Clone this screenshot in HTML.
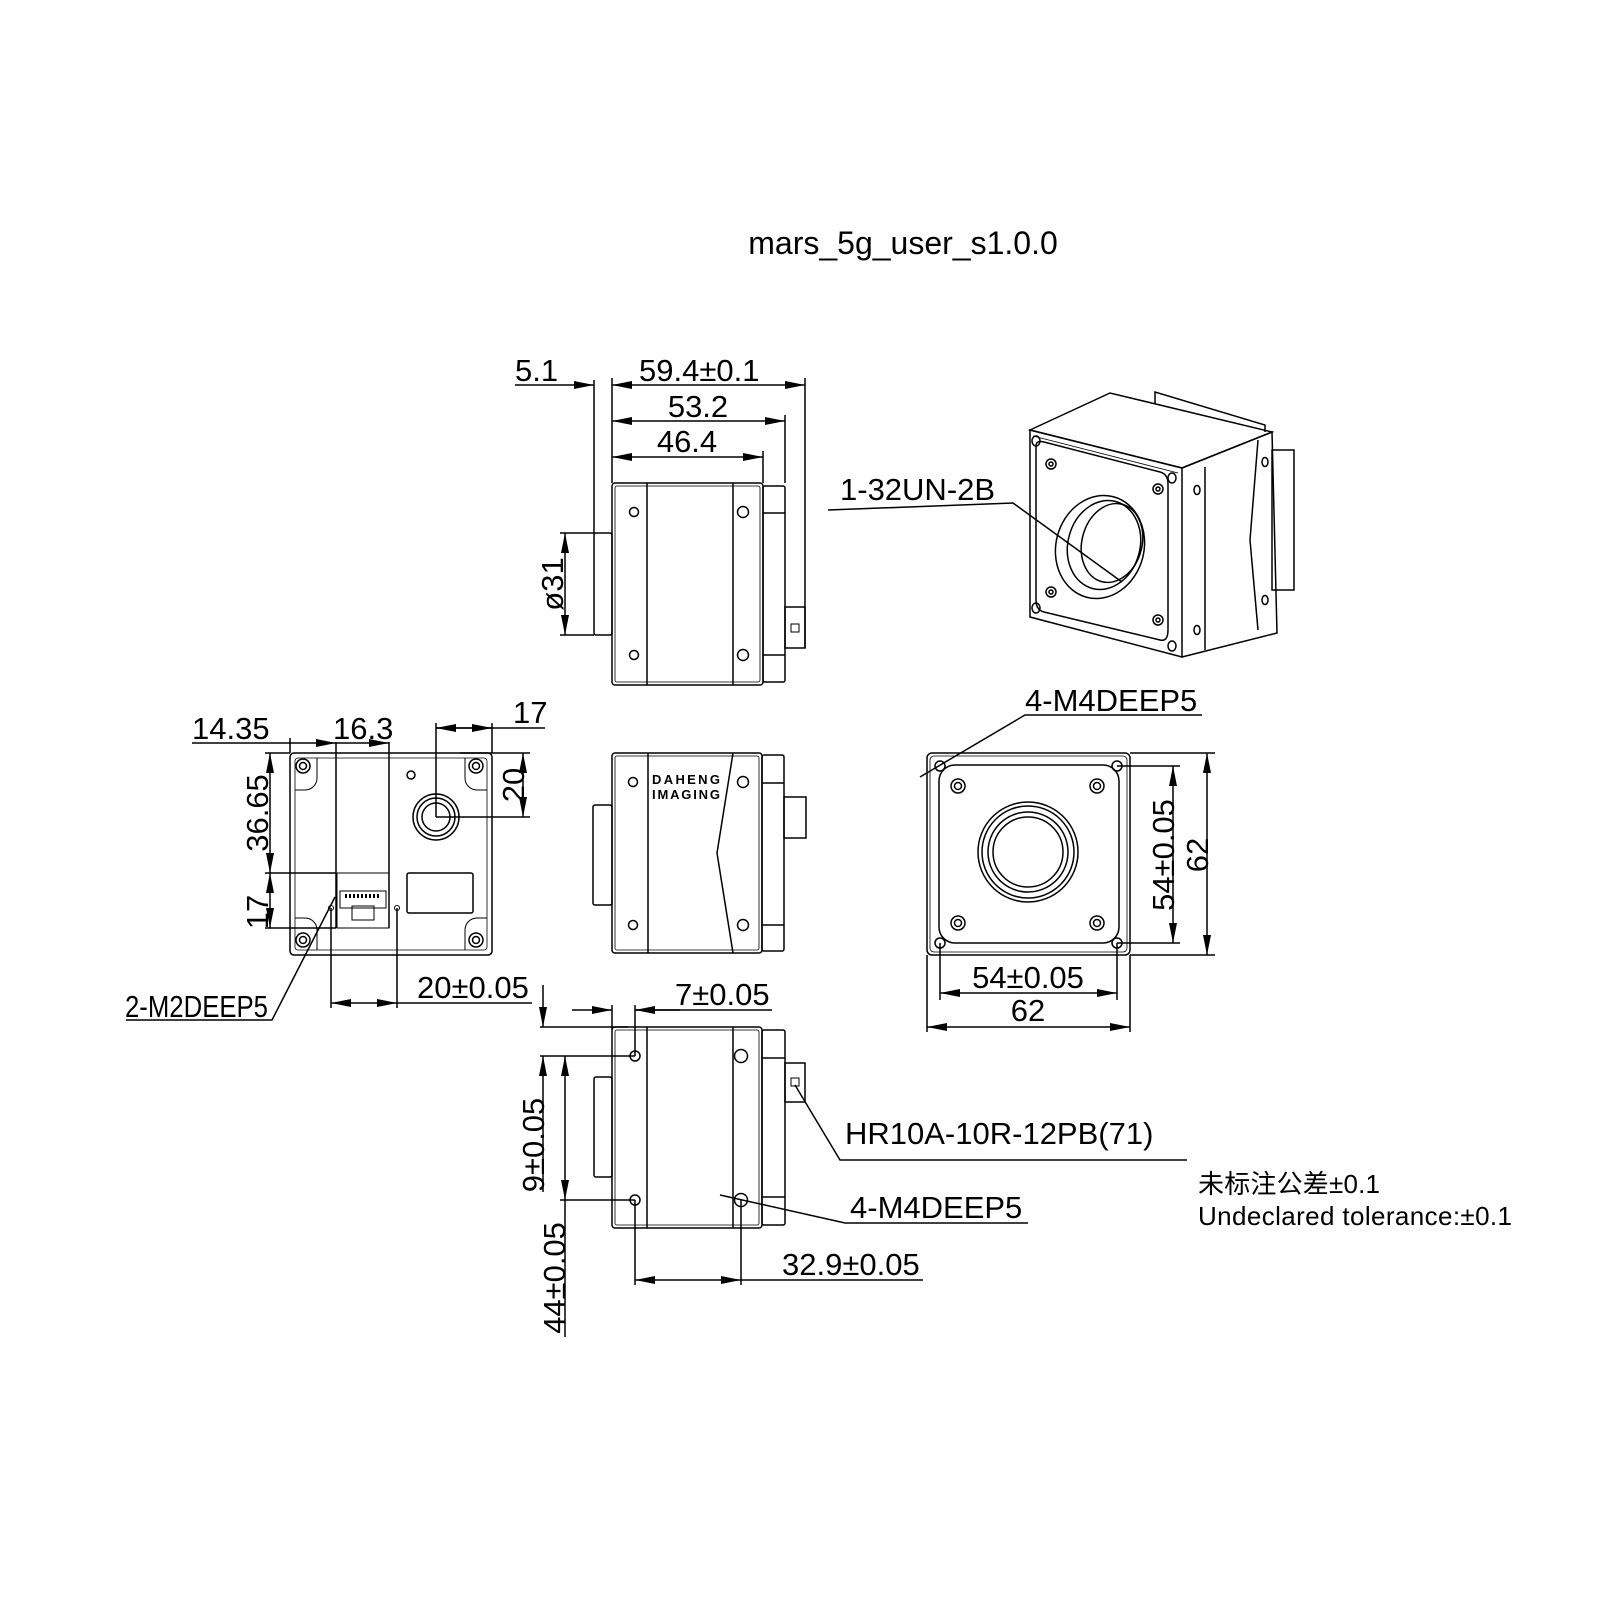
<!DOCTYPE html>
<html><head><meta charset="utf-8"><style>
html,body{margin:0;padding:0;background:#fff;}
svg{display:block;}
text{font-family:"Liberation Sans","Noto Sans CJK SC",sans-serif;fill:#000;}
</style></head><body>
<svg width="1600" height="1600" viewBox="0 0 1600 1600" xmlns="http://www.w3.org/2000/svg">
<defs>
<marker id="a" viewBox="0 0 20 8" refX="20" refY="4" markerWidth="20" markerHeight="8" markerUnits="userSpaceOnUse" orient="auto-start-reverse"><path d="M0,0 L20,4 L0,8z" fill="#000"/></marker>
</defs>
<rect width="1600" height="1600" fill="#fff"/>
<text x="903" y="254" font-size="32" text-anchor="middle">mars_5g_user_s1.0.0</text>

<g stroke="#000" stroke-width="1.5" fill="none">
<!-- ===== TOP VIEW ===== -->
<rect x="612" y="483" width="151" height="202" rx="3"/>
<rect x="615" y="486" width="145" height="196" rx="2" stroke-width="0.8"/>
<line x1="647" y1="483" x2="647" y2="685"/>
<line x1="733" y1="483" x2="733" y2="685"/>
<rect x="763" y="486" width="22" height="196" rx="2"/>
<line x1="763" y1="513" x2="785" y2="513"/>
<line x1="763" y1="655" x2="785" y2="655"/>
<rect x="785" y="607" width="20" height="41"/>
<rect x="791" y="624" width="8" height="8" stroke-width="1"/>
<rect x="594" y="533" width="18" height="102" rx="2"/>
<circle cx="634" cy="512" r="4.5"/><circle cx="743" cy="512" r="5.5"/>
<circle cx="634" cy="655" r="4.5"/><circle cx="743" cy="655" r="5.5"/>
<!-- dims -->
<line x1="515" y1="385" x2="594" y2="385" marker-end="url(#a)"/>
<line x1="612" y1="385" x2="805" y2="385" marker-start="url(#a)" marker-end="url(#a)"/>
<line x1="612" y1="421" x2="785" y2="421" marker-start="url(#a)" marker-end="url(#a)"/>
<line x1="612" y1="457" x2="763" y2="457" marker-start="url(#a)" marker-end="url(#a)"/>
<line x1="594" y1="380" x2="594" y2="533"/>
<line x1="612" y1="378" x2="612" y2="483"/>
<line x1="805" y1="378" x2="805" y2="648"/>
<line x1="785" y1="415" x2="785" y2="483"/>
<line x1="763" y1="451" x2="763" y2="483"/>
<line x1="565" y1="533" x2="565" y2="635" marker-start="url(#a)" marker-end="url(#a)"/>
<line x1="560" y1="533" x2="594" y2="533"/>
<line x1="560" y1="635" x2="594" y2="635"/>

<!-- ===== REAR VIEW ===== -->
<rect x="290" y="753" width="202" height="202" rx="4"/>
<rect x="295" y="758" width="192" height="192" rx="3" stroke-width="0.8"/>
<path d="M295,790 H305 a12,12 0 0 0 12,-12 V758" stroke-width="1"/>
<path d="M487,790 H477 a12,12 0 0 1 -12,-12 V758" stroke-width="1"/>
<path d="M295,918 H305 a12,12 0 0 1 12,12 V950" stroke-width="1"/>
<path d="M487,918 H477 a12,12 0 0 0 -12,12 V950" stroke-width="1"/>
<circle cx="303" cy="766" r="7"/><circle cx="303" cy="766" r="3.5"/>
<circle cx="476" cy="766" r="7"/><circle cx="476" cy="766" r="3.5"/>
<circle cx="303" cy="940" r="7"/><circle cx="303" cy="940" r="3.5"/>
<circle cx="476" cy="940" r="7"/><circle cx="476" cy="940" r="3.5"/>
<line x1="336" y1="742" x2="336" y2="928"/>
<line x1="389" y1="742" x2="389" y2="928"/>
<rect x="337" y="873" width="52" height="55" stroke-width="1"/>
<rect x="340" y="891" width="46" height="17" stroke-width="1"/>
<rect x="352" y="906" width="22" height="14" stroke-width="1"/>
<line x1="345" y1="896" x2="381" y2="896" stroke-width="4" stroke-dasharray="2,2"/>
<circle cx="436" cy="817" r="23"/><circle cx="436" cy="817" r="19"/><circle cx="436" cy="817" r="14"/>
<circle cx="411" cy="775" r="4"/>
<rect x="407" y="873" width="66" height="40" rx="2"/>
<circle cx="331" cy="908" r="2.5" stroke-width="1"/>
<circle cx="397" cy="908" r="2.5" stroke-width="1"/>
<!-- rear dims -->
<line x1="192" y1="743" x2="290" y2="743"/>
<line x1="290" y1="743" x2="336" y2="743" marker-end="url(#a)"/>
<line x1="336" y1="743" x2="389" y2="743" marker-end="url(#a)"/>
<line x1="290" y1="738" x2="290" y2="753"/>
<line x1="436" y1="728" x2="545" y2="728"/>
<line x1="436" y1="728" x2="492" y2="728" marker-start="url(#a)" marker-end="url(#a)"/>
<line x1="436" y1="723" x2="436" y2="817"/>
<line x1="492" y1="723" x2="492" y2="753"/>
<line x1="523" y1="753" x2="523" y2="817" marker-start="url(#a)" marker-end="url(#a)"/>
<line x1="460" y1="753" x2="530" y2="753"/>
<line x1="436" y1="817" x2="530" y2="817"/>
<line x1="270" y1="753" x2="270" y2="873" marker-start="url(#a)" marker-end="url(#a)"/>
<line x1="270" y1="873" x2="270" y2="928" marker-start="url(#a)" marker-end="url(#a)"/>
<line x1="265" y1="753" x2="290" y2="753"/>
<line x1="265" y1="873" x2="336" y2="873"/>
<line x1="265" y1="928" x2="336" y2="928"/>
<line x1="331" y1="908" x2="331" y2="1008"/>
<line x1="397" y1="908" x2="397" y2="1008"/>
<line x1="331" y1="1003" x2="397" y2="1003" marker-start="url(#a)" marker-end="url(#a)"/>
<line x1="397" y1="1003" x2="532" y2="1003"/>
<polyline points="126,1020 272,1020 335,897"/>

<!-- ===== MIDDLE SIDE VIEW ===== -->
<rect x="612" y="753" width="150" height="200" rx="3"/>
<rect x="615" y="756" width="144" height="194" rx="2" stroke-width="0.8"/>
<line x1="648" y1="753" x2="648" y2="953"/>
<polyline points="733,753 717,853 733,953"/>
<rect x="762" y="755" width="22" height="196" rx="2"/>
<line x1="762" y1="783" x2="784" y2="783"/>
<line x1="762" y1="925" x2="784" y2="925"/>
<rect x="784" y="797" width="22" height="41"/>
<rect x="593" y="805" width="19" height="100" rx="2"/>
<circle cx="633" cy="782" r="4.5"/><circle cx="743" cy="782" r="5.5"/>
<circle cx="633" cy="925" r="4.5"/><circle cx="743" cy="925" r="5.5"/>

<!-- ===== FRONT VIEW ===== -->
<rect x="927" y="753" width="203" height="202" rx="5"/>
<rect x="930" y="756" width="197" height="196" rx="4" stroke-width="0.8"/>
<rect x="939" y="765" width="180" height="178" rx="16"/>
<circle cx="940" cy="766" r="5"/><circle cx="1117" cy="766" r="5"/>
<circle cx="940" cy="943" r="5"/><circle cx="1117" cy="943" r="5"/>
<circle cx="958" cy="786" r="7"/><circle cx="958" cy="786" r="3.5"/>
<circle cx="1097" cy="786" r="7"/><circle cx="1097" cy="786" r="3.5"/>
<circle cx="958" cy="923" r="7"/><circle cx="958" cy="923" r="3.5"/>
<circle cx="1097" cy="923" r="7"/><circle cx="1097" cy="923" r="3.5"/>
<circle cx="1028" cy="852" r="50"/><circle cx="1028" cy="852" r="46"/>
<circle cx="1028" cy="852" r="40"/><circle cx="1028" cy="852" r="35"/>
<polyline points="1202,715 1025,715 920,777"/>
<line x1="1117" y1="766" x2="1180" y2="766"/>
<line x1="1117" y1="943" x2="1180" y2="943"/>
<line x1="1173" y1="766" x2="1173" y2="943" marker-start="url(#a)" marker-end="url(#a)"/>
<line x1="1130" y1="753" x2="1215" y2="753"/>
<line x1="1130" y1="955" x2="1215" y2="955"/>
<line x1="1207" y1="753" x2="1207" y2="955" marker-start="url(#a)" marker-end="url(#a)"/>
<line x1="940" y1="943" x2="940" y2="1000"/>
<line x1="1117" y1="943" x2="1117" y2="1000"/>
<line x1="940" y1="993" x2="1117" y2="993" marker-start="url(#a)" marker-end="url(#a)"/>
<line x1="927" y1="955" x2="927" y2="1032"/>
<line x1="1130" y1="955" x2="1130" y2="1032"/>
<line x1="927" y1="1027" x2="1130" y2="1027" marker-start="url(#a)" marker-end="url(#a)"/>

<!-- ===== BOTTOM VIEW ===== -->
<rect x="612" y="1027" width="150" height="201" rx="3"/>
<rect x="615" y="1030" width="144" height="195" rx="2" stroke-width="0.8"/>
<line x1="647" y1="1027" x2="647" y2="1228"/>
<line x1="733" y1="1027" x2="733" y2="1228"/>
<rect x="762" y="1030" width="23" height="195" rx="2"/>
<line x1="762" y1="1058" x2="785" y2="1058"/>
<line x1="762" y1="1197" x2="785" y2="1197"/>
<rect x="785" y="1063" width="20" height="39"/>
<rect x="791" y="1078" width="8" height="8" stroke-width="1"/>
<rect x="594" y="1077" width="18" height="100" rx="2"/>
<circle cx="635" cy="1056" r="5"/><circle cx="741" cy="1056" r="6.5"/>
<circle cx="635" cy="1200" r="5"/><circle cx="741" cy="1200" r="6.5"/>
<!-- bottom dims -->
<line x1="572" y1="1010" x2="612" y2="1010" marker-end="url(#a)"/>
<line x1="635" y1="1010" x2="772" y2="1010"/>
<line x1="680" y1="1010" x2="635" y2="1010" marker-end="url(#a)"/>
<line x1="612" y1="1005" x2="612" y2="1030"/>
<line x1="635" y1="1005" x2="635" y2="1056"/>
<line x1="543" y1="985" x2="543" y2="1027" marker-end="url(#a)"/>
<line x1="543" y1="1192" x2="543" y2="1056" marker-end="url(#a)"/>
<line x1="540" y1="1027" x2="628" y2="1027"/>
<line x1="540" y1="1056" x2="635" y2="1056"/>
<line x1="565" y1="1056" x2="565" y2="1200" marker-start="url(#a)" marker-end="url(#a)"/>
<line x1="565" y1="1200" x2="565" y2="1337"/>
<line x1="560" y1="1200" x2="635" y2="1200"/>
<line x1="635" y1="1200" x2="635" y2="1285"/>
<line x1="741" y1="1200" x2="741" y2="1285"/>
<line x1="635" y1="1280" x2="741" y2="1280" marker-start="url(#a)" marker-end="url(#a)"/>
<line x1="741" y1="1280" x2="923" y2="1280"/>
<polyline points="795,1085 840,1160 1187,1160"/>
<polyline points="720,1195 845,1223 1028,1223"/>

<!-- ===== ISOMETRIC ===== -->
<path d="M1155,404 L1155,392 L1265,425 L1265,432"/>
<path d="M1030,430 L1110,393 L1272,432 L1182,468 Z"/>
<path d="M1033,436 L1178,473" stroke-width="0.8"/>
<path d="M1182,468 L1272,432 L1277,633 L1182,657"/>
<path d="M1030,430 L1182,468 L1182,657 L1030,617 Z"/>
<path d="M1036,446 Q1036,440 1044,442 L1160,472 Q1168,474 1168,484 L1168,630 Q1168,642 1160,640 L1044,612 Q1036,610 1036,600 Z"/>
<line x1="1205" y1="467" x2="1205" y2="650"/>
<polyline points="1258,440 1250,540 1258,630"/>
<rect x="1272" y="450" width="22" height="140"/>
<circle cx="1051" cy="464" r="5"/><circle cx="1051" cy="464" r="2"/>
<circle cx="1158" cy="489" r="5"/><circle cx="1158" cy="489" r="2"/>
<circle cx="1051" cy="592" r="5"/><circle cx="1051" cy="592" r="2"/>
<circle cx="1158" cy="620" r="5"/><circle cx="1158" cy="620" r="2"/>
<ellipse cx="1036" cy="441" rx="4" ry="5"/><ellipse cx="1172" cy="478" rx="4" ry="5"/>
<ellipse cx="1036" cy="608" rx="4" ry="5"/><ellipse cx="1172" cy="646" rx="4" ry="5"/>
<ellipse cx="1197" cy="490" rx="3" ry="4.5"/><ellipse cx="1197" cy="630" rx="3" ry="4.5"/>
<ellipse cx="1265" cy="462" rx="3" ry="4.5"/><ellipse cx="1265" cy="600" rx="3" ry="4.5"/>
<ellipse cx="1100" cy="547" rx="44" ry="52" transform="rotate(15 1100 547)"/>
<ellipse cx="1104" cy="545" rx="36" ry="45" transform="rotate(15 1104 545)"/>
<ellipse cx="1112" cy="543" rx="30" ry="40" transform="rotate(15 1112 543)"/>
<polyline points="828,510 1013,503 1122,582"/>
</g>

<!-- logo -->
<text x="652" y="784" font-size="13" font-weight="bold" textLength="68">DAHENG</text>
<text x="652" y="799" font-size="13" font-weight="bold" textLength="68">IMAGING</text>

<!-- texts -->
<g font-size="31">
<text x="515" y="381">5.1</text>
<text x="639" y="381">59.4±0.1</text>
<text x="698" y="417" text-anchor="middle">53.2</text>
<text x="687" y="452" text-anchor="middle">46.4</text>
<text transform="translate(563,584) rotate(-90)" text-anchor="middle">ø31</text>
<text x="192" y="739">14.35</text>
<text x="333" y="739">16.3</text>
<text x="513" y="723">17</text>
<text transform="translate(524,785) rotate(-90)" text-anchor="middle">20</text>
<text transform="translate(268,813) rotate(-90)" text-anchor="middle">36.65</text>
<text transform="translate(268,912) rotate(-90)" text-anchor="middle">17</text>
<text x="417" y="998">20±0.05</text>
<text x="125" y="1017" textLength="143" lengthAdjust="spacingAndGlyphs">2-M2DEEP5</text>
<text x="1025" y="711">4-M4DEEP5</text>
<text transform="translate(1174,855) rotate(-90)" text-anchor="middle">54±0.05</text>
<text transform="translate(1208,855) rotate(-90)" text-anchor="middle">62</text>
<text x="1028" y="988" text-anchor="middle">54±0.05</text>
<text x="1028" y="1021" text-anchor="middle">62</text>
<text x="675" y="1005">7±0.05</text>
<text transform="translate(544,1145) rotate(-90)" text-anchor="middle">9±0.05</text>
<text transform="translate(565,1278) rotate(-90)" text-anchor="middle">44±0.05</text>
<text x="782" y="1275">32.9±0.05</text>
<text x="845" y="1144">HR10A-10R-12PB(71)</text>
<text x="850" y="1218">4-M4DEEP5</text>
<text x="840" y="500">1-32UN-2B</text>
</g>
<text x="1198" y="1193" font-size="26" textLength="182">未标注公差±0.1</text>
<text x="1198" y="1225" font-size="26" textLength="314">Undeclared tolerance:±0.1</text>
</svg>
</body></html>
